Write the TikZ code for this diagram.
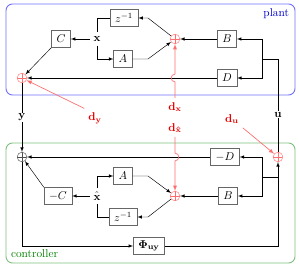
\documentclass[tikz,border=0pt]{standalone}
\definecolor{plantblue}{RGB}{110,110,250}
\definecolor{ctrlgreen}{RGB}{125,190,125}
\definecolor{dred}{RGB}{230,0,0}
\definecolor{dpink}{RGB}{255,110,110}
\tikzset{
    blk/.style={draw=black!60, minimum width=5.8mm, minimum height=5.3mm, inner xsep=4.5pt, inner ysep=2pt},
    sum/.style={circle, draw=#1, minimum size=3mm, inner sep=0pt,
        path picture={\draw[#1] (path picture bounding box.north) -- (path picture bounding box.south)
            (path picture bounding box.west) -- (path picture bounding box.east);}},
    sum/.default=black!70,
    dist/.style={draw=dpink, semithick, ->}
}
\begin{document}
\begin{tikzpicture}[x=0.31mm, y=0.31mm, >=latex]
        \useasboundingbox (0,0) rectangle (299,266);
        \draw[plantblue, thick, rounded corners=2mm] (6,171) rectangle (295,262);
        \node[blue!80!black, anchor=north east] (plantlbl) at (293,261) {plant};
        \draw[ctrlgreen, thick, rounded corners=2mm] (6,3) rectangle (295,123);
        \node[green!50!black, anchor=south west] (ctrllbl) at (7,4) {controller};

        \node[blk] (z1) at (124,248) {$z^{-1}$};
        \node[blk] (A1) at (123,207) {$A$};
        \node (x) at (97,227) {$\mathbf{x}$};
        \node[blk] (C) at (61,227) {$C$};
        \node[sum=dpink] (sx) at (175,227) {};
        \node[blk] (B1) at (227,227) {$B$};
        \node[blk] (D) at (227,188) {$D$};
        \node[sum=dpink] (sy) at (22,188) {};
        \coordinate (z1r) at (148,248);
        \coordinate (a1r) at (148,207);
        \coordinate (jp) at (262,207);
        \coordinate (uj) at (278,207);

        \draw[->] (x) -- (C);
        \draw[->] (x.south) |- (A1);
        \draw (z1) -| (x.north);
        \draw[->] (sx) -- (z1r) -- (z1);
        \draw[->] (A1) -- (a1r) -- (sx);
        \draw[->] (B1) -- (sx);
        \draw[->] (C.south west) -- (sy);
        \draw[->] (D) -- (sy);
        \draw[->] (jp) |- (B1);
        \draw[->] (jp) |- (D);
        \draw (jp) -- (uj);

        \node[sum] (sc) at (22,109) {};
        \node[blk] (mD) at (225,109) {$-D$};
        \node[sum=dpink] (su) at (278,109) {};
        \node[blk] (B2) at (228,70) {$B$};
        \node[sum=dpink] (sxh) at (175,70) {};
        \node (xh) at (97,70) {$\hat{\mathbf{x}}$};
        \node[blk] (A2) at (123,90) {$A$};
        \node[blk] (z2) at (123,49) {$z^{-1}$};
        \node[blk] (mC) at (58,70) {$-C$};
        \node[blk] (Phi) at (149,20) {$\mathbf{\Phi_{uy}}$};
        \coordinate (z2r) at (148,49);
        \coordinate (a2r) at (148,90);
        \coordinate (cj) at (262,89);
        \coordinate (cu) at (278,89);

        \draw[->] (sy) -- node[fill=white, inner sep=1pt] (ylbl) {$\mathbf{y}$} (sc);
        \draw (su) -- node[pos=0.4, fill=white, inner sep=1pt] (ulbl) {$\mathbf{u}$} (uj);
        \draw[->] (sc) |- (Phi);
        \draw[->] (Phi) -| (su);
        \draw (cu) -- (cj);
        \draw[->] (cj) |- (mD);
        \draw[->] (cj) |- (B2);
        \draw[->] (mD) -- (sc);
        \draw[->] (B2) -- (sxh);
        \draw[->] (sxh) -- (z2r) -- (z2);
        \draw (z2) -| (xh.south);
        \draw[->] (xh.north) |- (A2);
        \draw[->] (A2) -- (a2r) -- (sxh);
        \draw[->] (xh) -- (mC);
        \draw[->] (mC.north west) -- (sc);

        \node[dred] (dy) at (95,148) {$\mathbf{d_y}$};
        \node[dred] (dx) at (175,159) {$\mathbf{d_x}$};
        \node[dred] (dxh) at (175,138) {$\mathbf{d_{\hat x}}$};
        \node[dred] (du) at (232,147) {$\mathbf{d_u}$};
        \draw[dist] (dy.north west) -- (sy);
        \draw[dist] (du.south east) -- (su);
        \draw[dist] (dx) -- ([yshift=-1.2mm]dx |- D) arc[start angle=270, end angle=90, radius=1.2mm] -- (sx);
        \draw[dist] (dxh) -- ([yshift=1.2mm]dxh |- mD) arc[start angle=90, end angle=-90, radius=1.2mm] -- (sxh);
\end{tikzpicture}
\end{document}
